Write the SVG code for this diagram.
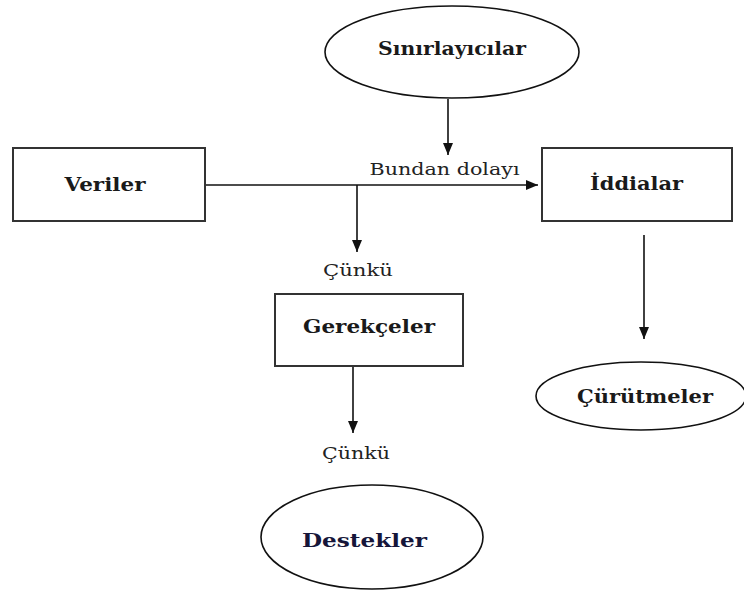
<svg xmlns="http://www.w3.org/2000/svg" width="744" height="593" viewBox="0 0 744 593">
<style>
.box{fill:#fff;stroke:#333;stroke-width:2}
.ell{fill:#fff;stroke:#111;stroke-width:1.6}
.lbl{font-family:"DejaVu Serif","Liberation Serif",serif;font-weight:bold;font-size:18px;fill:#1a1a1a;text-anchor:middle}
.cap{font-family:"DejaVu Serif","Liberation Serif",serif;font-size:17px;fill:#222;text-anchor:middle}
.ln{fill:none;stroke:#111;stroke-width:1.6}
</style>
<defs>
<marker id="ah" viewBox="0 0 12 10" refX="12" refY="5" markerWidth="12" markerHeight="10" markerUnits="userSpaceOnUse" orient="auto">
<path d="M0,0 L12,5 L0,10 Z" fill="#111"/>
</marker>
</defs>
<rect width="744" height="593" fill="#fff"/>
<g id="connectors">
<line class="ln" x1="205" y1="185" x2="538" y2="185" marker-end="url(#ah)"/>
<line class="ln" x1="448" y1="99" x2="448" y2="155" marker-end="url(#ah)"/>
<line class="ln" x1="357" y1="185" x2="357" y2="252" marker-end="url(#ah)"/>
<line class="ln" x1="644" y1="235" x2="644" y2="339" marker-end="url(#ah)"/>
<line class="ln" x1="353" y1="366" x2="353" y2="433" marker-end="url(#ah)"/>
<text class="cap" x="444.5" y="175" textLength="150" lengthAdjust="spacingAndGlyphs">Bundan dolayı</text>
<text class="cap" x="358" y="276" textLength="70" lengthAdjust="spacingAndGlyphs">Çünkü</text>
<text class="cap" x="356" y="459" textLength="68" lengthAdjust="spacingAndGlyphs">Çünkü</text>
</g>
<g id="siniriayicilar">
<ellipse class="ell" cx="452" cy="52" rx="127" ry="46"/>
<text class="lbl" x="452" y="55" textLength="148" lengthAdjust="spacingAndGlyphs">Sınırlayıcılar</text>
</g>
<g id="veriler">
<rect class="box" x="13" y="148" width="192" height="73"/>
<text class="lbl" x="105" y="191" textLength="81" lengthAdjust="spacingAndGlyphs">Veriler</text>
</g>
<g id="iddialar">
<rect class="box" x="542" y="148" width="190" height="73"/>
<text class="lbl" x="636.5" y="190" textLength="93" lengthAdjust="spacingAndGlyphs">İddialar</text>
</g>
<g id="gerekceler">
<rect class="box" x="275" y="294" width="188" height="72"/>
<text class="lbl" x="369" y="333" textLength="132" lengthAdjust="spacingAndGlyphs">Gerekçeler</text>
</g>
<g id="curutmeler">
<ellipse class="ell" cx="641" cy="396" rx="105" ry="34"/>
<text class="lbl" x="645" y="403" textLength="136" lengthAdjust="spacingAndGlyphs">Çürütmeler</text>
</g>
<g id="destekler">
<ellipse class="ell" cx="372" cy="537" rx="111" ry="52"/>
<text class="lbl" x="364.5" y="547" textLength="125" lengthAdjust="spacingAndGlyphs" style="fill:#16163a">Destekler</text>
</g>
</svg>
